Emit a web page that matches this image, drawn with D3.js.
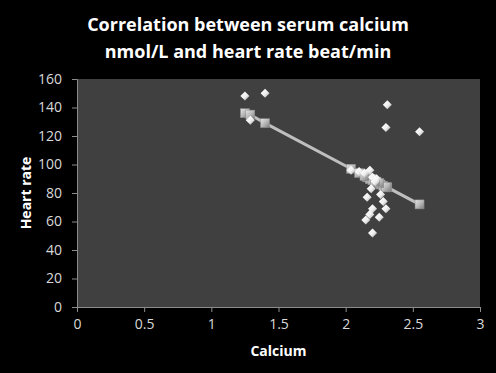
<!DOCTYPE html>
<html lang="en">
<head>
<meta charset="UTF-8">
<title>Calcium vs heart rate</title>
<script src="https://d3js.org/d3.v7.min.js"></script>
<style>
  body { margin: 0; background: #000; }
  svg { display: block; }
  .tick text { fill: #d9d9d9; font-family: "Open Sans", sans-serif; font-size: 14px; }
</style>
</head>
<body>
<svg id="chart" width="496" height="373"></svg>
<script>
// observed values (diamonds)
const calcium = [1.25, 1.40, 1.29, 2.31, 2.30, 2.55, 2.04, 2.10, 2.18, 2.20, 2.23, 2.19, 2.16, 2.26, 2.28, 2.20, 2.30, 2.18, 2.15, 2.25, 2.20, 2.22, 2.14];
const heartRate = [148, 150, 131, 142, 126, 123, 96, 95, 96, 91, 90, 83, 77, 79, 74, 69, 69, 65, 61, 63, 52, 88, 94];
// fitted values (squares + line)
const fitted = [136, 129, 135, 84, 84, 72, 97, 94, 90, 89, 88, 90, 91, 86, 85, 89, 84, 90, 92, 87, 89, 88, 92];

const xTicks = [0, 0.5, 1, 1.5, 2, 2.5, 3];
const yTicks = [0, 20, 40, 60, 80, 100, 120, 140, 160];
const titleLines = ["Correlation between serum calcium", "nmol/L and heart rate beat/min"];

const svg = d3.select("#chart");
const m = { left: 77, right: 480, top: 79, bottom: 307 };

const x = d3.scaleLinear().domain([0, 3]).range([m.left, m.right]);
const y = d3.scaleLinear().domain([0, 160]).range([m.bottom, m.top]);

// gradients for the bevelled markers
const defs = svg.append("defs");
const dg = defs.append("linearGradient").attr("id", "dia").attr("x1", 0).attr("y1", 0).attr("x2", 1).attr("y2", 1);
dg.append("stop").attr("offset", "0%").attr("stop-color", "#ffffff");
dg.append("stop").attr("offset", "55%").attr("stop-color", "#f0f0f0");
dg.append("stop").attr("offset", "100%").attr("stop-color", "#9a9a9a");
const sg = defs.append("linearGradient").attr("id", "sq").attr("x1", 0).attr("y1", 0).attr("x2", 1).attr("y2", 1);
sg.append("stop").attr("offset", "0%").attr("stop-color", "#e6e6e6");
sg.append("stop").attr("offset", "50%").attr("stop-color", "#b8b8b8");
sg.append("stop").attr("offset", "100%").attr("stop-color", "#7a7a7a");

// plot area
svg.append("rect")
  .attr("x", m.left).attr("y", m.top)
  .attr("width", m.right - m.left).attr("height", m.bottom - m.top)
  .attr("fill", "#404040");

// axes
const xAxis = svg.append("g")
  .attr("transform", `translate(0,${m.bottom})`)
  .call(d3.axisBottom(x).tickValues(xTicks).tickSize(5).tickPadding(7).tickFormat(d3.format("")));
const yAxis = svg.append("g")
  .attr("transform", `translate(${m.left},0)`)
  .call(d3.axisLeft(y).tickValues(yTicks).tickSize(5).tickPadding(10));
[xAxis, yAxis].forEach(a => {
  a.select(".domain").attr("stroke", "#8c8c8c");
  a.selectAll(".tick line").attr("stroke", "#8c8c8c");
});

// fitted line
const pts = calcium.map((c, i) => ({ c, hr: heartRate[i], f: fitted[i] }));
const sorted = pts.slice().sort((a, b) => a.c - b.c);
svg.append("path")
  .datum(sorted)
  .attr("fill", "none")
  .attr("stroke", "#bfbfbf")
  .attr("stroke-width", 3)
  .attr("d", d3.line().x(d => x(d.c)).y(d => y(d.f)));

// squares
svg.append("g").selectAll("rect")
  .data(pts)
  .enter().append("rect")
  .attr("x", d => x(d.c) - 4.5).attr("y", d => y(d.f) - 4.5)
  .attr("width", 9).attr("height", 9)
  .attr("fill", "url(#sq)")
  .attr("stroke", "#8a8a8a").attr("stroke-width", 0.5);

// diamonds
const diamond = d3.symbol().type(d3.symbolDiamond2).size(52);
svg.append("g").selectAll("path")
  .data(pts)
  .enter().append("path")
  .attr("transform", d => `translate(${x(d.c)},${y(d.hr)})`)
  .attr("d", diamond)
  .attr("fill", "url(#dia)");

// title
svg.append("g").selectAll("text")
  .data(titleLines)
  .enter().append("text")
  .attr("x", 248).attr("y", (d, i) => 31 + i * 27)
  .attr("text-anchor", "middle")
  .attr("fill", "#ffffff")
  .attr("font-family", "Open Sans, sans-serif")
  .attr("font-weight", "bold")
  .attr("font-size", 18)
  .text(d => d);

// axis titles
svg.append("text")
  .attr("x", (m.left + m.right) / 2).attr("y", 356)
  .attr("text-anchor", "middle")
  .attr("fill", "#ffffff")
  .attr("font-family", "Open Sans, sans-serif")
  .attr("font-weight", "bold").attr("font-size", 14)
  .text("Calcium");
svg.append("text")
  .attr("transform", `translate(31,${(m.top + m.bottom) / 2}) rotate(-90)`)
  .attr("text-anchor", "middle")
  .attr("fill", "#ffffff")
  .attr("font-family", "Open Sans, sans-serif")
  .attr("font-weight", "bold").attr("font-size", 14)
  .text("Heart rate");
</script>
</body>
</html>
